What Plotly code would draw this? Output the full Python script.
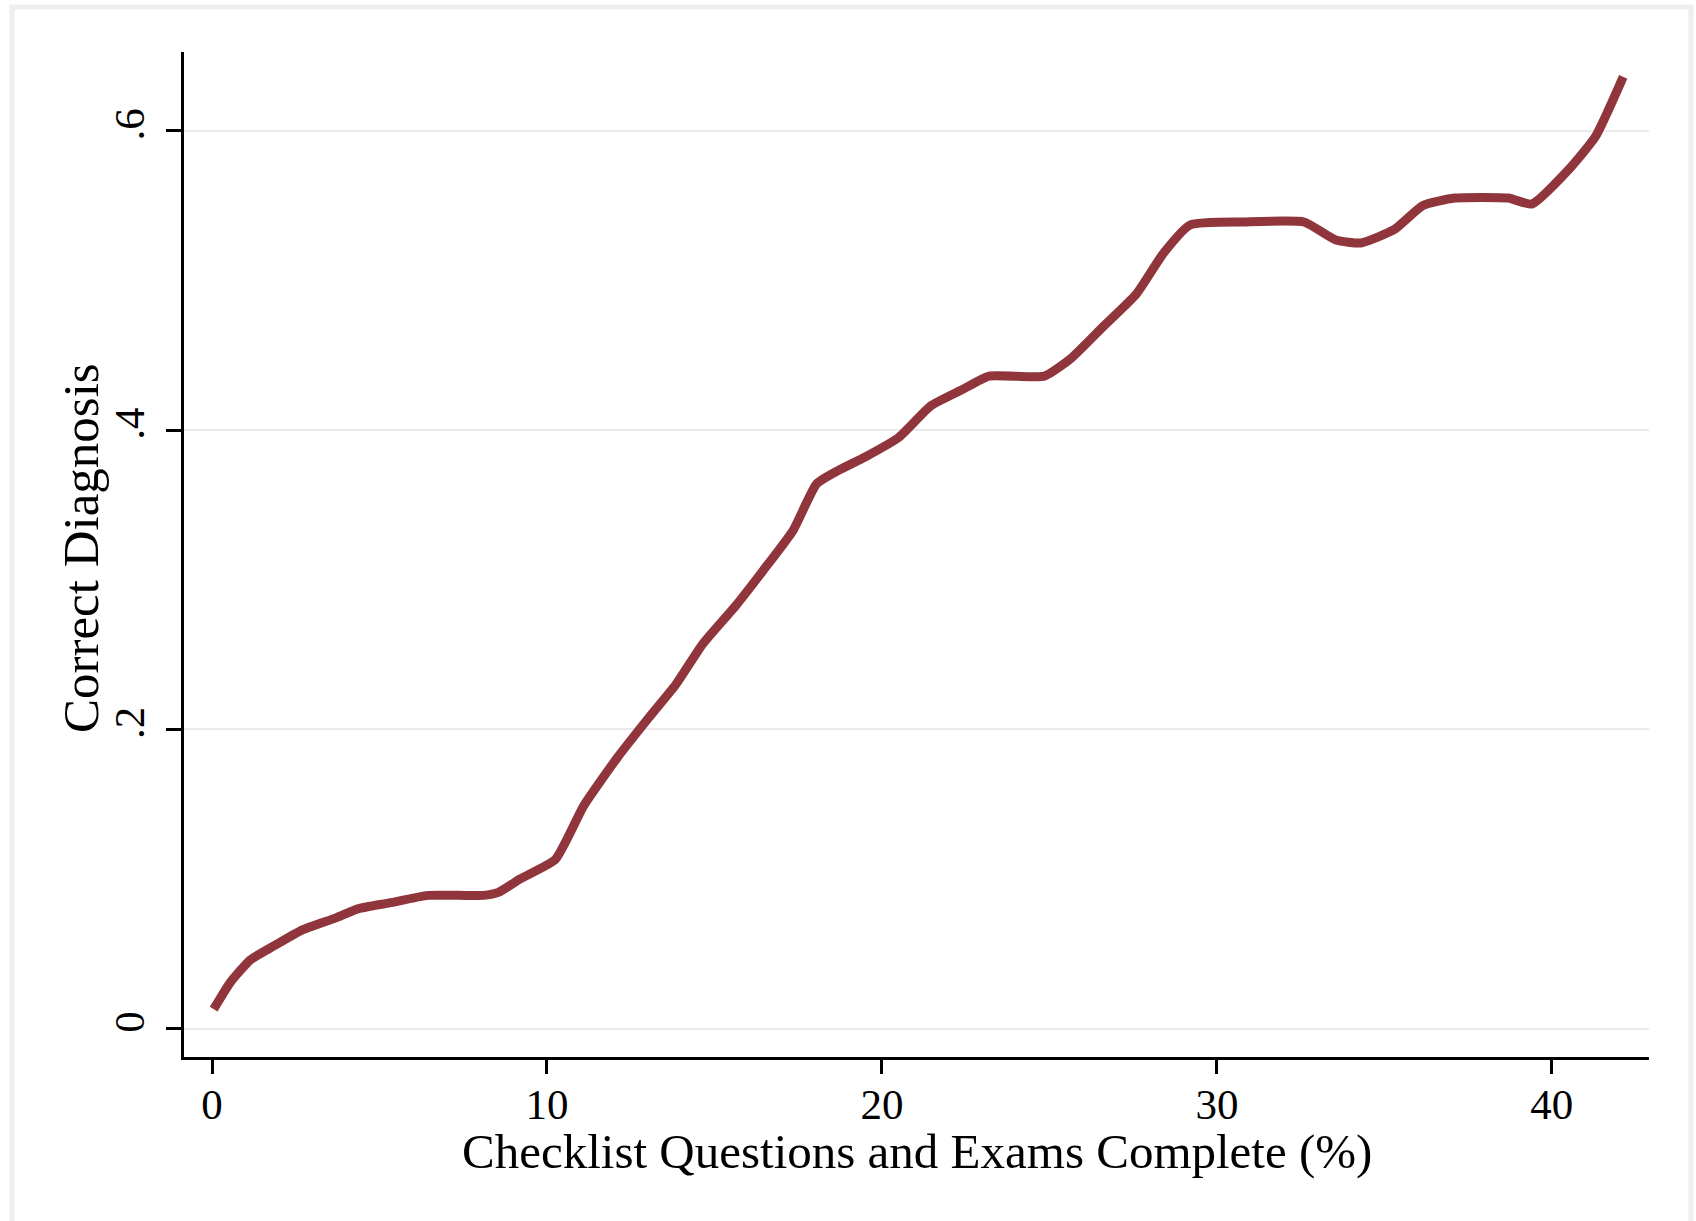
import plotly.graph_objects as go

# courbe (x en %, y = part de diagnostics corrects)
checklist_pct = [0.05, 0.55, 1.15, 1.75, 2.7, 3.7, 4.35, 5.3, 6.45, 7.55, 8.1, 8.55,
                 9.2, 10.25, 11.1, 12.1, 13.05, 13.85, 14.65, 15.65, 16.45, 17.35,
                 18.05, 18.7, 19.5, 20.5, 21.45, 22.4, 23.2, 24.85, 25.65, 26.6,
                 27.6, 28.4, 29.2, 30.8, 32.6, 33.55, 34.3, 35.3, 36.15, 37.1,
                 38.7, 39.4, 40.5, 41.3, 42.13]
correct_dx = [0.013, 0.031, 0.046, 0.054, 0.066, 0.074, 0.080, 0.084, 0.089, 0.089,
              0.089, 0.091, 0.100, 0.113, 0.149, 0.181, 0.208, 0.230, 0.257, 0.283,
              0.306, 0.333, 0.364, 0.373, 0.382, 0.395, 0.416, 0.427, 0.436, 0.436,
              0.448, 0.469, 0.491, 0.518, 0.537, 0.539, 0.539, 0.527, 0.525, 0.534,
              0.550, 0.555, 0.555, 0.551, 0.574, 0.596, 0.636]

x_ticks = [0, 10, 20, 30, 40]
y_ticks = [0, 0.2, 0.4, 0.6]
y_labels = ["0", ".2", ".4", ".6"]
x_title = "Checklist Questions and Exams Complete (%)"
y_title = "Correct Diagnosis"

W, H = 1696, 1221
L, R, T, B = 184, 47, 52, 164
pw, ph = W - L - R, H - T - B

fig = go.Figure()
fig.add_trace(go.Scatter(
    x=checklist_pct,
    y=correct_dx,
    mode="lines",
    line=dict(color="#90353B", width=9, shape="spline", smoothing=0.5),
    showlegend=False
))

# cadre gris clair autour de l'image
fig.add_shape(
    type="rect", xref="paper", yref="paper",
    x0=(12 - L) / pw, x1=(1691 - L) / pw,
    y0=-0.3, y1=(H - B - 7) / ph,
    line=dict(color="#eeeeee", width=5),
    layer="below"
)

# titres des axes placés à la main (standoff négatif impossible)
fig.add_annotation(text=x_title, xref="paper", yref="paper",
                   x=0.5, y=(H - B - 1151) / ph, xanchor="center", yanchor="middle",
                   showarrow=False, font=dict(size=49))
fig.add_annotation(text=y_title, xref="paper", yref="paper",
                   x=(81 - L) / pw, y=(H - B - 548) / ph, xanchor="center", yanchor="middle",
                   textangle=-90, showarrow=False, font=dict(size=51))

font = dict(family="Liberation Serif, Times New Roman, serif", color="black")

fig.update_layout(
    width=W, height=H,
    margin=dict(l=L, r=R, t=T, b=B),
    paper_bgcolor="white",
    plot_bgcolor="white",
    font=font,
    xaxis=dict(
        range=[-0.836, 42.9],
        tickvals=x_ticks,
        ticks="outside", ticklen=14, tickwidth=2.5, tickcolor="black",
        tickfont=dict(size=43),
        ticklabelstandoff=-7,
        showline=True, linecolor="black", linewidth=3,
        showgrid=False, zeroline=False,
    ),
    yaxis=dict(
        range=[-0.019, 0.6526],
        tickvals=y_ticks,
        ticktext=y_labels,
        tickangle=-90,
        ticks="outside", ticklen=15, tickwidth=2.5, tickcolor="black",
        tickfont=dict(size=43),
        ticklabelstandoff=5,
        showline=True, linecolor="black", linewidth=3,
        showgrid=True, gridcolor="#eaeaea", gridwidth=2,
        zeroline=False,
    ),
)

fig.write_html("out.html", config={"displayModeBar": False},
               post_script="document.body.style.margin='0px';")
